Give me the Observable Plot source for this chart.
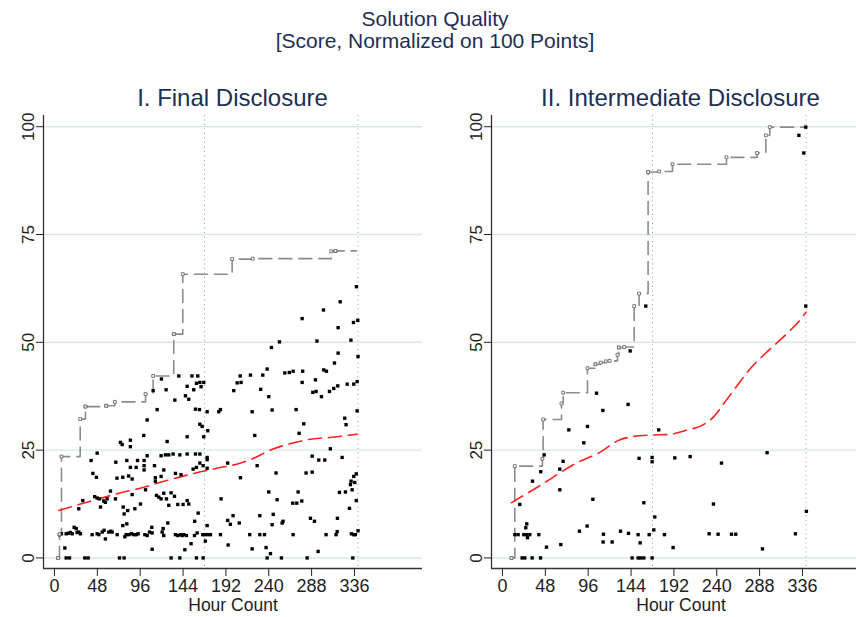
<!DOCTYPE html>
<html><head><meta charset="utf-8">
<script src="https://cdn.jsdelivr.net/npm/d3@7"></script>
<script src="https://cdn.jsdelivr.net/npm/@observablehq/plot@0.6"></script>
<style>
body{margin:0;width:856px;height:617px;overflow:hidden;background:#fff;position:relative;font-family:"Liberation Sans",Arial,Helvetica,sans-serif;}
#title{position:absolute;left:0;top:8px;width:870px;text-align:center;font-size:21px;line-height:22px;color:#1c2f55;}
.ptitle{position:absolute;top:86px;width:379px;text-align:center;font-size:24px;line-height:24px;color:#1c2f55;white-space:nowrap;}
.panel{position:absolute;top:70px;width:430px;height:547px;}
.panel svg{max-width:none !important;}
</style></head><body>
<div id="title"></div>
<div class="ptitle" id="t1" style="left:43px"></div>
<div class="ptitle" id="t2" style="left:491px"></div>
<div class="panel" id="p1" style="left:0px"></div>
<div class="panel" id="p2" style="left:448px"></div>
<script>
const mainTitle = ["Solution Quality", "[Score, Normalized on 100 Points]"];
const panelTitles = ["I. Final Disclosure", "II. Intermediate Disclosure"];
const xLabel = "Hour Count";
const xTicks = [0, 48, 96, 144, 192, 240, 288, 336];
const yTicks = [0, 25, 50, 75, 100];
const refHours = [168, 340];
const xDomain = [-12.3, 412.2];
const yDomain = [-2.45, 102.6];

// Panel I: individual submissions [hour, score]
const leftPoints = [
[4.1,0],[13.1,0],[16.8,0],[34,0],[37.7,0],[72.8,0],[78,0],[11.6,2.3],
[5.6,5.4],[7.8,5.6],[13.1,5.6],[15.3,5.7],[17.9,5.9],[19.8,5.6],[25.4,5.9],[27.3,6.0],[29.1,5.6],[42.2,5.4],[47.8,5.6],[49.7,5.4],[53.4,6.0],[55.6,6.4],[60.8,6.0],[63.1,6.2],[64.6,6.0],[70.2,5.4],[78.8,4.9],[80.3,5.4],[83.3,5.4],[86.2,5.6],[88.9,5.4],[91.5,5.4],[93.7,5.6],[101.2,5.4],[103.8,5.2],[106.4,6.0],
[22,7.1],[24.3,6.8],[57,4.4],[109,7.1],[109.4,2],
[34.7,35.1],[57.9,35.3],[103.8,32],[100,28.4],[73.9,26.8],[75.8,26.3],[85,27.3],[85,25.8],[47.8,24.3],[41,22.6],[43,19.6],[47,18.7],[68.7,22.2],[81,22.6],[93,22.6],[100.4,22.6],[103.8,23.7],[85,21],[91.5,21],[100.4,21.4],[100.4,20.4],[70,18.5],[76.5,18.7],[83,19],[87,18.3],[62.7,15.5],[45,14.2],[47.8,13.9],[50.4,13.7],[55.2,13.2],[57,12.9],[59,13.7],[68.3,13.7],[51.5,11.8],[27.2,11.4],[31.7,13.3],[77,11.8],[78,10.2],[82,11],[90,11.4],[96.3,12.5],[102,15.8],[87,14.7],[76.5,7.5],[81,7.9],
[119.8,41.5],[139.2,42.2],[154,42.2],[160.5,42.2],[208,42.2],[219.5,42.4],[110.5,38.8],
[125,39],[148.6,39.8],[156,39],[159,40.5],[162.8,40.7],[164.2,39.7],[167.2,40.7],[200.8,38.8],[204.6,40.6],[209,40.7],
[146.7,37.6],[150.4,36.8],[134.8,36.6],
[115,34.4],[157.9,34.5],[162.4,34.4],[171,33.9],[184,33.9],[185.9,34.4],[221.4,33.9],
[162.8,31],[165.4,30.5],[171.7,29.5],[126.2,27],[148.6,28.1],[167.2,28.1],[224.3,28.4],
[119.4,23.7],[124.3,23.9],[128,23.9],[132.9,24.1],[140.4,23.9],[148.6,24.1],[157.9,24.1],[162.8,24.1],[171,23.3],[171,22.8],[112,21.4],[122.4,20.4],[135.5,19.6],[141.8,19.3],[155.3,20.6],[159,21],[162.8,22],[166.5,21.4],[171,20.8],[113,18.6],[113,17.8],[119.4,18.9],[194,22],[227,21.4],[208.3,18.6],
[114.2,14.5],[116.8,14.1],[119.4,13.7],[122.4,15],[125.4,13.7],[130.6,15.1],[134.4,14.3],[128,12.2],[138.1,12.4],[144,12.4],[148.6,13.3],[150.4,12.5],[186.6,13.7],
[160.9,10.4],[157,8.5],[171,7.5],[126.9,8.1],[121.7,6.8],[120.6,6],[194,8.7],[197,7.8],[200,9.8],[207,8.1],[230,9.8],
[109.4,5.8],[122.4,5.2],[135.5,5.4],[138.1,5.2],[141.1,5.4],[143,5.2],[144.8,5.4],[147.8,5.2],[156.8,5.2],[159.8,5.8],[166.1,5.4],[168.3,5.4],[171.7,5.4],[174.7,5.4],[185.9,5.4],[218.7,5.4],[230,5.4],
[169,3.9],[153,3.3],[146,1.9],[194.5,3],[221.4,2.1],
[130.6,0],[140.4,0],[159,0],[166.5,0],
[252,50.1],[243,48.8],[294,50.3],[332,50.5],[317.7,47.5],[340,46.7],[313.6,45.2],[238.2,43.8],[233.3,42.4],[258,42.9],[263,43],[267.3,43.3],[278,43.3],[301.6,43.6],[304.6,43.3],[292.3,41.3],[277.4,40.7],[327.8,40.3],[335.2,40.3],[339,40.9],[231,39.1],[289.3,38.4],[293,38.6],[299,37.4],[308,38.6],[312.8,39.3],[317.3,39.9],[240,37.4],[243.8,34.3],[270.6,34.4],[339,34.1],[325.1,32.4],[326.6,30.9],[279.2,31.1],[274,28.9],[309,25.3],[288.6,23.6],[296,22.7],[302.7,22.7],[322.2,23.3],[248.2,19.7],[281.8,19.7],[288.6,19.9],[338,19.5],[335.2,18.9],[336.3,17.5],[332.2,17.8],[331.5,17],[333.4,15.8],[325.9,15.3],[319.2,15.2],[240,15.3],[272.9,15.3],[249.4,13.5],[266.9,12.7],[271.4,12.7],[277,13.2],[338,13.3],[330.4,11.5],[245,10.1],[243.8,7.7],[255,8.1],[256,8.5],[286.7,9.2],[291.2,8.5],[316.9,9.2],[235.2,5.4],[267.3,5.4],[304.2,5.4],[315.4,5.4],[316.6,6.1],[332.6,5.6],[335.2,5.4],[337,5.4],[340,6.3],[237,2.4],[241.9,1],[295.3,1.5],[238.2,0],[254.2,0],[283,0],[334.1,0],
[338.2,62.9],[320,59.4],[301.3,57.5],[277.4,55.5],[334.9,54.6],[339.7,55.1],[317.7,53.4],[133.6,51.9],[314.7,71.1]
];
// Panel I: best score so far (stairstep)
const leftBestHours = [4.1, 5.6, 7.8, 28.8, 34.7, 57.9, 67.6, 102, 110.5, 133.6, 143.7, 199, 222, 310, 314.7];
const leftBestScores = [0, 5.5, 23.5, 32.2, 35.1, 35.3, 36.2, 38, 42.2, 51.9, 65.8, 69.3, 69.4, 71.1, 71.2];
const leftEnd = 338;
// Panel I: smoothed trend
const leftSmoothHours = [4.9, 27.3, 49.7, 72, 102, 113, 141, 158, 182, 205, 225, 244, 266, 289, 311, 339];
const leftSmoothScores = [11, 12.4, 13.7, 15, 16.5, 17.2, 18.8, 19.7, 20.8, 21.8, 23.3, 25.2, 26.6, 27.6, 28, 28.7];

// Panel II
const rightPoints = [
[10.1,0],[22,0],[25,0],[33.2,0],[42.6,0],[145.2,0],[151.9,0],[154.9,0],[158.3,0],[167.6,0],
[13.8,5.4],[17.5,5.4],[23.9,5.4],[26.9,5.4],[30.6,5.4],[40.7,5.4],[28,4.7],[26.1,7],[27.2,7.9],[19.4,12.4],[33.6,17.8],[42.9,20],[46.7,23.9],[49.3,2.5],[64.2,20.6],[67.9,22.4],[64.2,15.8],[65.3,3.1],[74.3,29.7],[86.2,6.2],[94.8,7.4],[95.2,30.5],[91.1,26.7],[101.2,13.6],[105.3,38.2],[112.4,34.2],[113.1,5.5],[112.7,3.7],[122.8,3.7],[132.2,6.2],[141.1,5.7],[140.7,35.6],[143,48],[151.9,5.4],[154.2,3.5],[153,23.1],[158.3,12.8],[164.3,5.4],[167.6,23.3],[167.6,22.3],[169.5,6.5],[170.6,9.5],[175,29.7],[181.4,5.4],[191.1,2.4],[193,23.2],[210.2,23.5],[231.5,5.6],[236.3,12.5],[241.5,5.5],[245.3,22],[256.5,5.5],[261.3,5.5],[291.2,2.1],[296.4,24.4],[328.1,5.6],[340.4,10.8],
[160.5,58.4],[163.1,89.5],[339.7,99.9],[332,98],[337.5,93.9],[339.7,58.4],[130.3,48.8],[104.1,44.9]
];
const rightBestHours = [10.1, 13.8, 44.7, 45.5, 66.1, 68, 95.2, 104.1, 110, 115.7, 120, 128.8, 130.3, 136.3, 147.5, 153, 163.1, 175.5, 190.4, 250.9, 285.2, 295, 299.4];
const rightBestScores = [0, 21.3, 23, 32.1, 35.8, 38.3, 44, 44.9, 45.3, 45.6, 45.7, 47.1, 48.8, 48.9, 58.4, 61.3, 89.5, 89.6, 91.3, 92.9, 93.9, 98, 99.9];
const rightEnd = 339.7;
const rightSmoothHours = [10.1, 43.7, 81, 110.9, 129.4, 144.5, 167, 185.5, 204, 226.6, 236, 249, 264, 278.9, 297.5, 318, 335, 340];
const rightSmoothScores = [12.8, 17, 21.8, 24.7, 27.2, 28.1, 28.5, 28.6, 29.5, 31.1, 32.6, 36.1, 40.3, 44.2, 48, 51.9, 55.6, 57];

const FONT = '"Liberation Sans", Arial, Helvetica, sans-serif';

document.getElementById("title").innerHTML = mainTitle.join("<br>");
document.getElementById("t1").textContent = panelTitles[0];
document.getElementById("t2").textContent = panelTitles[1];

function toObjs(h, s) { return h.map((d, i) => ({hour: d, score: s[i]})); }

function panel(points, bestH, bestS, endHour, smH, smS) {
  const pts = points.map(([hour, score]) => ({hour, score}));
  const best = toObjs(bestH, bestS);
  const bestLine = best.concat([{hour: endHour, score: bestS[bestS.length - 1]}]);
  const smooth = toObjs(smH, smS);
  return Plot.plot({
    width: 430, height: 547,
    marginLeft: 43, marginRight: 8, marginTop: 45, marginBottom: 49,
    x: {domain: xDomain},
    y: {domain: yDomain},
    style: {fontFamily: FONT, fontSize: "18px", color: "#222", background: "transparent", overflow: "visible", maxWidth: "none"},
    marks: [
      Plot.ruleY(yTicks, {stroke: "#d6e8ec", strokeWidth: 1.4}),
      Plot.ruleX(refHours, {stroke: "#9a9a9a", strokeWidth: 1, strokeDasharray: "1,3.5"}),
      Plot.line(bestLine, {x: "hour", y: "score", curve: "step-after", stroke: "#8c8c8c", strokeWidth: 1.6, strokeDasharray: "13,7"}),
      Plot.line(smooth, {x: "hour", y: "score", curve: "monotone-x", stroke: "#ff2020", strokeWidth: 1.6, strokeDasharray: "13,7"}),
      Plot.dot(pts, {x: "hour", y: "score", symbol: "square", r: 1.9, fill: "#000"}),
      Plot.dot(best, {x: "hour", y: "score", symbol: "square", r: 1.6, fill: "#fff", stroke: "#777", strokeWidth: 1}),
      Plot.ruleX([xDomain[0]], {stroke: "#333", strokeWidth: 1.3}),
      Plot.ruleY([yDomain[0]], {stroke: "#333", strokeWidth: 1.3}),
      Plot.axisX({ticks: xTicks, tickSize: 8, tickPadding: 3, label: null, fontSize: 18}),
      Plot.axisY({ticks: yTicks, tickSize: 7, tickRotate: -90, label: null, fontSize: 17}),
      Plot.text([xLabel], {text: d => d, frameAnchor: "bottom", lineAnchor: "top", dy: 30, fontSize: 17.5, fill: "#222"})
    ]
  });
}

document.getElementById("p1").append(panel(leftPoints, leftBestHours, leftBestScores, leftEnd, leftSmoothHours, leftSmoothScores));
document.getElementById("p2").append(panel(rightPoints, rightBestHours, rightBestScores, rightEnd, rightSmoothHours, rightSmoothScores));
</script>
</body></html>
